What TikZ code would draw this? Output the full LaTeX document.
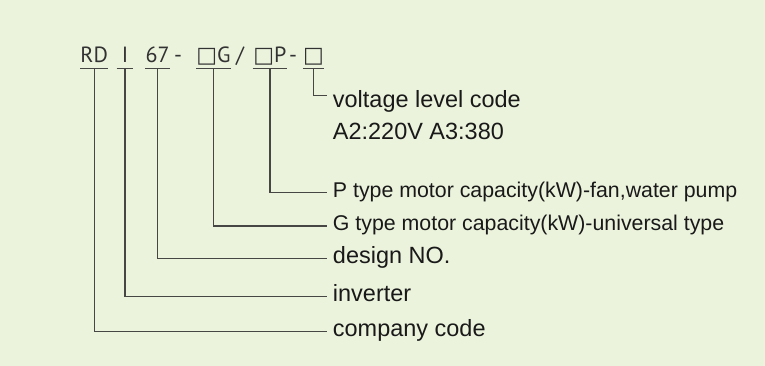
\documentclass[tikz,border=0pt]{standalone}
\usepackage{fontspec}
\usepackage{tikz}
\usetikzlibrary{positioning}
\newfontfamily\labelfont{Liberation Sans}
\newfontfamily\codefont{PT Sans}
\newfontfamily\boxfont{DejaVu Sans}
\newcommand{\sqbox}{{\boxfont □}}
\definecolor{panelbg}{RGB}{235,243,220}
\definecolor{linegray}{RGB}{70,70,68}
\definecolor{codegray}{RGB}{50,50,50}

\begin{document}
\begin{tikzpicture}[
    x=0.75pt, y=-0.75pt,
    seg/.style={inner sep=0pt, anchor=base, text depth=4.4pt,
                font=\codefont\fontsize{16.5}{19}\selectfont, text=codegray},
    lbl/.style={anchor=west, inner xsep=4.5pt, inner ysep=0pt,
                text height=12pt, text depth=4.5pt, text=black!90,
                font=\labelfont\fontsize{17.6}{20}\selectfont},
    lblsmall/.style={lbl, font=\labelfont\fontsize{16}{19}\selectfont},
    conn/.style={draw=linegray, line width=0.9pt},
]
  \fill[panelbg] (0,0) rectangle (765,366);

  \node[seg, minimum width=18.75pt] (rd)   at (94.2,62.3)  {RD};
  \node[seg, minimum width=12pt]    (inv)  at (125,62.3)   {I};
  \node[seg, minimum width=12.75pt] (des)  at (157.5,62.3) {67};
  \node[seg]                        (dsh1) at (178,62.3)   {-};
  \node[seg, minimum width=24.75pt] (gcap) at (213.5,62.3) {\sqbox G};
  \node[seg]                        (slsh) at (240,62.3)   {/};
  \node[seg, minimum width=25.5pt]  (pcap) at (270,62.3)   {\sqbox P};
  \node[seg]                        (dsh2) at (293,62.3)   {-};
  \node[seg, minimum width=12.75pt] (volt) at (313.5,62.3) {\sqbox};

  \node[lbl, text height=22.9pt] (lvolt) at (326.7,95.7) {voltage level code};
  \node[lbl, anchor=base west] (lvcodes) at (326.7,140) {A2:220V A3:380};
  \node[lblsmall] (lpcap) at (326.7,192.3) {P type motor capacity(kW)-fan,water pump};
  \node[lblsmall] (lgcap) at (326.7,226)   {G type motor capacity(kW)-universal type};
  \node[lbl] (ldes)  at (326.7,258.3) {design NO.};
  \node[lbl] (linv)  at (326.7,296.7) {inverter};
  \node[lbl] (lcomp) at (326.7,331.7) {company code};

  \foreach \n in {rd,inv,des,gcap,pcap,volt}
    \draw[conn] (\n.south west) -- (\n.south east);

  \draw[conn] (volt.south) |- (lvolt.west);
  \draw[conn] (pcap.south) |- (lpcap.west);
  \draw[conn] (gcap.south) |- (lgcap.west);
  \draw[conn] (des.south)  |- (ldes.west);
  \draw[conn] (inv.south)  |- (linv.west);
  \draw[conn] (rd.south)   |- (lcomp.west);
\end{tikzpicture}
\end{document}
